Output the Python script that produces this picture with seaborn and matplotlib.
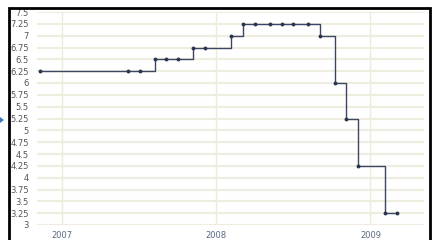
import numpy as np
import pandas as pd
import matplotlib
matplotlib.use('Agg')
import matplotlib.pyplot as plt
from matplotlib.patches import Rectangle, Polygon
import seaborn as sns

# ---------------------------------------------------------
# data: cash rate (%) at each meeting date
# ---------------------------------------------------------
dates = ['2006-11-08', '2007-06-06', '2007-07-04', '2007-08-08', '2007-09-05',
         '2007-10-03', '2007-11-07', '2007-12-05', '2008-02-06', '2008-03-05',
         '2008-04-02', '2008-05-07', '2008-06-04', '2008-07-02', '2008-08-06',
         '2008-09-03', '2008-10-08', '2008-11-05', '2008-12-03', '2009-02-04',
         '2009-03-04']
rates = [6.25, 6.25, 6.25, 6.5, 6.5,
         6.5, 6.75, 6.75, 7.0, 7.25,
         7.25, 7.25, 7.25, 7.25, 7.25,
         7.0, 6.0, 5.25, 4.25, 3.25,
         3.25]
y_ticks = np.arange(3.0, 7.51, 0.25)
y_labels = [f'{v:g}' for v in y_ticks]
year_ticks = ['2007-01-01', '2008-01-01', '2009-01-01']
year_labels = ['2007', '2008', '2009']

df = pd.DataFrame({'date': pd.to_datetime(dates), 'rate': rates})

sns.set_style('white')
plt.rcParams['font.family'] = ['DejaVu Sans']

fig = plt.figure(figsize=(4.37, 2.4), dpi=100)
ax = fig.add_axes([37 / 437, 1 - 225 / 240, (424 - 37) / 437, (225 - 12) / 240])

sns.lineplot(data=df, x='date', y='rate', ax=ax, drawstyle='steps-post',
             color='#3b4663', linewidth=1.0, marker='o', markersize=2.8,
             markeredgewidth=0, markerfacecolor='#2c3550')

ax.set_xlim(pd.Timestamp('2006-11-02'), pd.Timestamp('2009-05-08'))
ax.set_ylim(3.0, 7.5)
ax.set_yticks(y_ticks)
ax.set_yticklabels(y_labels)
ax.set_xticks(pd.to_datetime(year_ticks))
ax.set_xticklabels(year_labels)
ax.set_xlabel('')
ax.set_ylabel('')

ax.grid(True, axis='y', color='#efeddf', linewidth=1.6)
ax.grid(True, axis='x', color='#ecebd9', linewidth=1.0)
ax.set_axisbelow(True)
for s in ax.spines.values():
    s.set_visible(False)
ax.tick_params(axis='y', length=0, pad=6, labelsize=6, labelcolor='#555555')
ax.tick_params(axis='x', length=0, pad=4, labelsize=6, labelcolor='#5a6a80')

# outer frame of the widget
fig.patches.append(Rectangle((8.5 / 437, -0.1), (429.5 - 8.5) / 437, 1.1 - 7.5 / 240,
                             transform=fig.transFigure, fill=False,
                             edgecolor='black', linewidth=2.0))
# small blue arrow on the left edge
fig.patches.append(Polygon([[0, 1 - 117 / 240], [4 / 437, 1 - 120 / 240], [0, 1 - 123 / 240]],
                           closed=True, transform=fig.transFigure,
                           facecolor='#3a78c8', edgecolor='none'))

fig.savefig('out.png', dpi=100)
